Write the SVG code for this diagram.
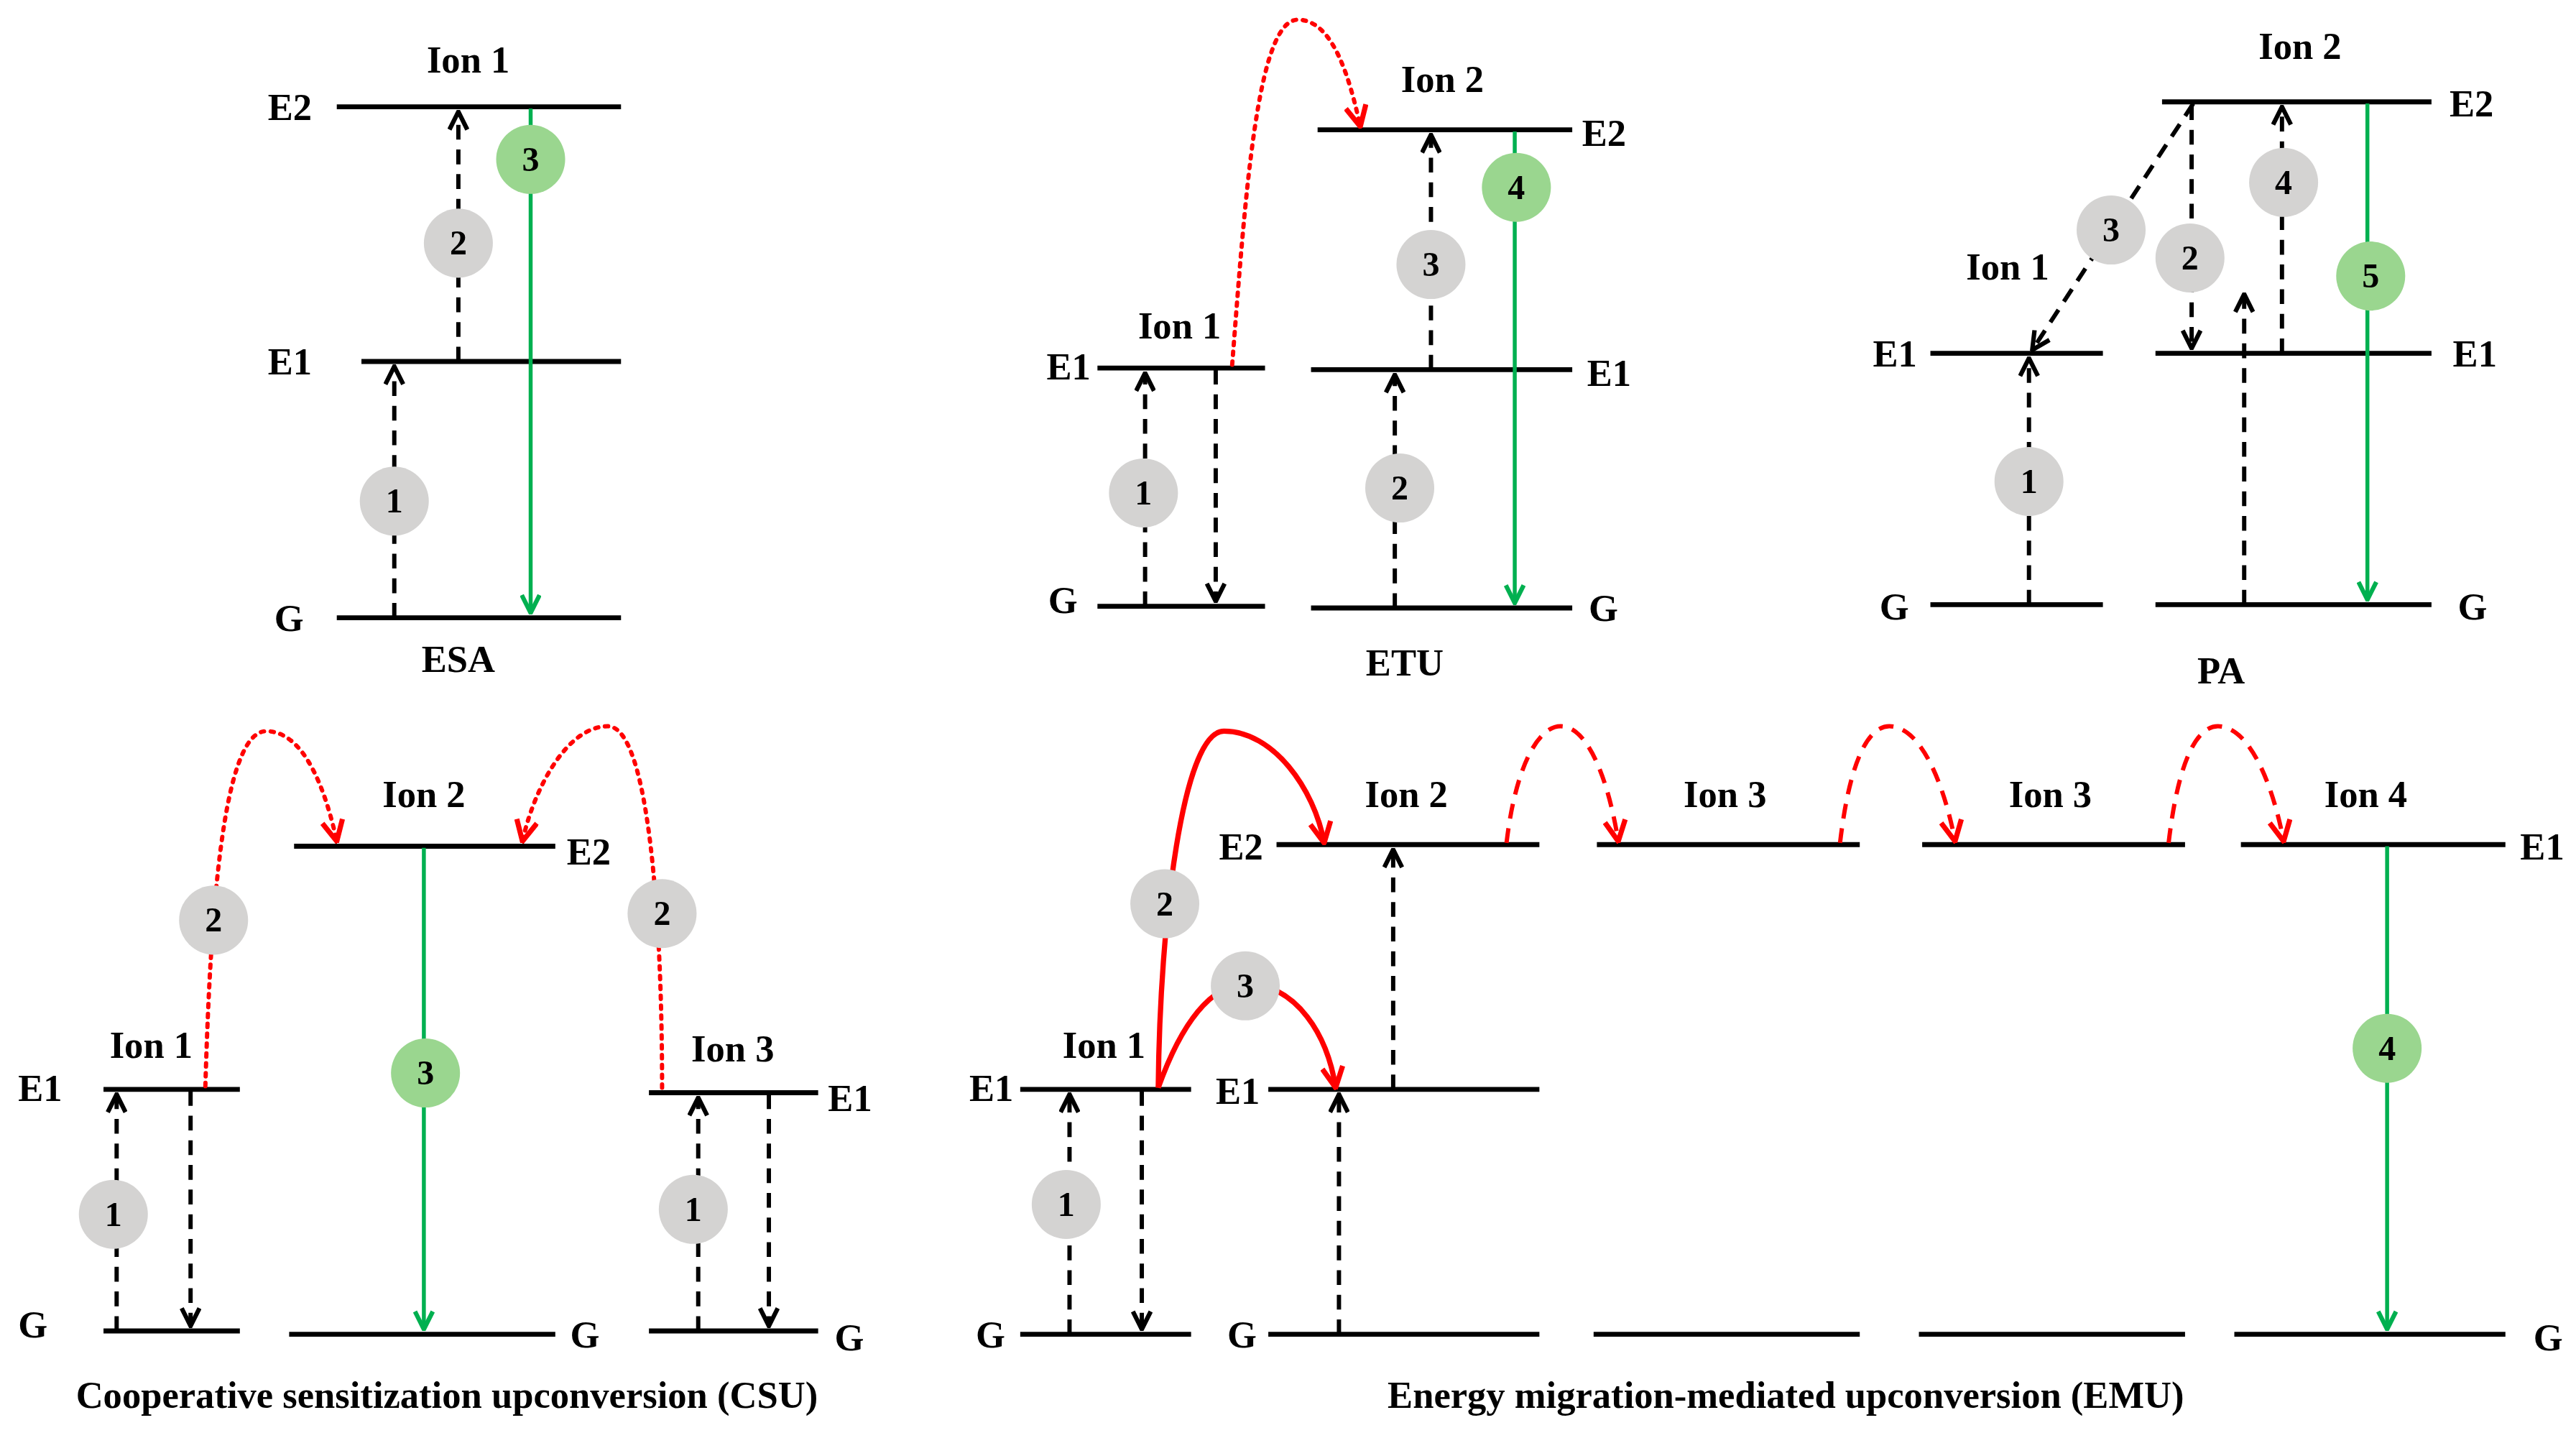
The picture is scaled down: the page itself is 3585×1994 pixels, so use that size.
<svg xmlns="http://www.w3.org/2000/svg" width="3585" height="1994" viewBox="0 0 3585 1994" font-family="'Liberation Serif', 'DejaVu Serif', serif">
<style>
text{font-family:'Liberation Serif','DejaVu Serif',serif;font-weight:bold;fill:#000}
.t{font-size:23px}
.c{font-size:21px;text-anchor:middle}
.mid{text-anchor:middle}
.lv{stroke:#000;stroke-width:3;fill:none}
.d{stroke:#000;stroke-width:2.6;stroke-dasharray:9 6;fill:none;marker-end:url(#mb)}
.g{stroke:#00b050;stroke-width:2.4;fill:none;marker-end:url(#mg)}
.rdot{stroke:#f00;stroke-width:2.6;stroke-dasharray:2 4;stroke-linecap:round;fill:none;marker-end:url(#mr)}
.rdash{stroke:#f00;stroke-width:2.6;stroke-dasharray:9 6;fill:none;marker-end:url(#mr)}
.rs{stroke:#f00;stroke-width:3.2;fill:none;marker-end:url(#mr)}
.gc{fill:#d4d3d2}
.gn{fill:#9ad68f}
</style>
<defs>
<marker id="mb" viewBox="0 0 12 12" refX="11" refY="6" markerWidth="13" markerHeight="13" markerUnits="userSpaceOnUse" orient="auto"><path d="M1,1 L11,6 L1,11" fill="none" stroke="#000" stroke-width="2.5"/></marker>
<marker id="mg" viewBox="0 0 12 12" refX="11" refY="6" markerWidth="13" markerHeight="13" markerUnits="userSpaceOnUse" orient="auto"><path d="M1,1 L11,6 L1,11" fill="none" stroke="#00b050" stroke-width="2.5"/></marker>
<marker id="mr" viewBox="0 0 12 12" refX="11" refY="6" markerWidth="15" markerHeight="15" markerUnits="userSpaceOnUse" orient="auto"><path d="M1,1 L11,6 L1,11" fill="none" stroke="#f00" stroke-width="2.5"/></marker>
</defs>
<rect width="3585" height="1994" fill="#fff"/>
<g transform="scale(2.2864)">
<g id="esa">
<line class="lv" x1="205" y1="65" x2="378" y2="65"/><line class="lv" x1="220" y1="220" x2="378" y2="220"/><line class="lv" x1="205" y1="376" x2="378" y2="376"/>
<text class="t" x="163" y="73">E2</text><text class="t" x="163" y="228">E1</text><text class="t" x="167" y="384">G</text>
<text class="t mid" x="285" y="44">Ion 1</text><text class="t mid" x="279" y="409">ESA</text>
</g>
<g id="etu">
<line class="lv" x1="668" y1="224" x2="770" y2="224"/><line class="lv" x1="668" y1="369" x2="770" y2="369"/>
<line class="lv" x1="802" y1="79" x2="957" y2="79"/><line class="lv" x1="798" y1="225" x2="957" y2="225"/><line class="lv" x1="798" y1="370" x2="957" y2="370"/>
<text class="t" x="637" y="231">E1</text><text class="t" x="638" y="373">G</text><text class="t mid" x="718" y="206">Ion 1</text>
<text class="t" x="963" y="89">E2</text><text class="t" x="966" y="235">E1</text><text class="t" x="967" y="378">G</text><text class="t mid" x="878" y="56">Ion 2</text>
<text class="t mid" x="855" y="411">ETU</text>
</g>
<g id="pa">
<line class="lv" x1="1175" y1="215" x2="1280" y2="215"/><line class="lv" x1="1175" y1="368" x2="1280" y2="368"/>
<line class="lv" x1="1316" y1="62" x2="1480" y2="62"/><line class="lv" x1="1312" y1="215" x2="1480" y2="215"/><line class="lv" x1="1312" y1="368" x2="1480" y2="368"/>
<text class="t" x="1140" y="223">E1</text><text class="t" x="1144" y="377">G</text><text class="t mid" x="1222" y="170">Ion 1</text>
<text class="t" x="1491" y="71">E2</text><text class="t" x="1493" y="223">E1</text><text class="t" x="1496" y="377">G</text><text class="t mid" x="1400" y="36">Ion 2</text>
<text class="t mid" x="1352" y="416">PA</text>
</g>
<g id="csu">
<line class="lv" x1="63" y1="663" x2="146" y2="663"/><line class="lv" x1="63" y1="810" x2="146" y2="810"/>
<line class="lv" x1="179" y1="515" x2="338" y2="515"/><line class="lv" x1="176" y1="812" x2="338" y2="812"/>
<line class="lv" x1="395" y1="665" x2="498" y2="665"/><line class="lv" x1="395" y1="810" x2="498" y2="810"/>
<text class="t" x="11" y="670">E1</text><text class="t" x="11" y="814">G</text><text class="t mid" x="92" y="644">Ion 1</text>
<text class="t" x="345" y="526">E2</text><text class="t" x="347" y="820">G</text><text class="t mid" x="258" y="491">Ion 2</text>
<text class="t" x="504" y="676">E1</text><text class="t" x="508" y="822">G</text><text class="t mid" x="446" y="646">Ion 3</text>
<text class="t mid" x="272" y="857">Cooperative sensitization upconversion (CSU)</text>
</g>
<g id="emu">
<line class="lv" x1="621" y1="663" x2="725" y2="663"/><line class="lv" x1="621" y1="812" x2="725" y2="812"/>
<line class="lv" x1="777" y1="514" x2="937" y2="514"/><line class="lv" x1="772" y1="663" x2="937" y2="663"/><line class="lv" x1="772" y1="812" x2="937" y2="812"/>
<line class="lv" x1="972" y1="514" x2="1132" y2="514"/><line class="lv" x1="970" y1="812" x2="1132" y2="812"/>
<line class="lv" x1="1170" y1="514" x2="1330" y2="514"/><line class="lv" x1="1168" y1="812" x2="1330" y2="812"/>
<line class="lv" x1="1364" y1="514" x2="1525" y2="514"/><line class="lv" x1="1360" y1="812" x2="1525" y2="812"/>
<text class="t" x="590" y="670">E1</text><text class="t" x="594" y="820">G</text><text class="t mid" x="672" y="644">Ion 1</text>
<text class="t" x="742" y="523">E2</text><text class="t" x="740" y="672">E1</text><text class="t" x="747" y="820">G</text><text class="t mid" x="856" y="491">Ion 2</text>
<text class="t mid" x="1050" y="491">Ion 3</text><text class="t mid" x="1248" y="491">Ion 3</text><text class="t mid" x="1440" y="491">Ion 4</text>
<text class="t" x="1534" y="523">E1</text><text class="t" x="1542" y="822">G</text>
<text class="t mid" x="1087" y="857">Energy migration-mediated upconversion (EMU)</text>
</g>
<g id="connectors">
<line class="d" x1="240" y1="376" x2="240" y2="223"/>
<line class="d" x1="279" y1="220" x2="279" y2="68"/>
<line class="g" x1="323" y1="66" x2="323" y2="373"/>
<line class="d" x1="697" y1="369" x2="697" y2="227"/>
<line class="d" x1="740" y1="225" x2="740" y2="366"/>
<path class="rdot" d="M750,222 C758,120 765,12 790,12 C812,12 822,50 828,77"/>
<line class="d" x1="849" y1="370" x2="849" y2="228"/>
<line class="d" x1="871" y1="225" x2="871" y2="82"/>
<line class="g" x1="922" y1="80" x2="922" y2="367"/>
<line class="d" x1="1235" y1="368" x2="1235" y2="218"/>
<line class="d" x1="1335" y1="63" x2="1237" y2="213"/>
<line class="d" x1="1334" y1="64" x2="1334" y2="212"/>
<line class="d" x1="1366" y1="368" x2="1366" y2="179"/>
<line class="d" x1="1389" y1="215" x2="1389" y2="65"/>
<line class="g" x1="1441" y1="63" x2="1441" y2="365"/>
<line class="d" x1="71" y1="810" x2="71" y2="666"/>
<line class="d" x1="116" y1="664" x2="116" y2="807"/>
<path class="rdot" d="M125,661 C128,560 135,445 162,445 C185,445 198,480 205,512"/>
<line class="g" x1="258" y1="516" x2="258" y2="809"/>
<path class="rdot" d="M403,662 C403,560 395,442 370,442 C345,442 325,480 318,512"/>
<line class="d" x1="425" y1="810" x2="425" y2="668"/>
<line class="d" x1="468" y1="666" x2="468" y2="807"/>
<line class="d" x1="651" y1="812" x2="651" y2="666"/>
<line class="d" x1="695" y1="664" x2="695" y2="809"/>
<path class="rs" d="M705,662 C706,560 720,445 745,445 C775,445 800,480 806,513"/>
<path class="rs" d="M705,662 C720,620 738,600 758,598 C790,600 808,630 813,662"/>
<line class="d" x1="848" y1="663" x2="848" y2="517"/>
<line class="d" x1="815" y1="812" x2="815" y2="666"/>
<path class="rdash" d="M917,513 C922,470 935,442 950,442 C968,442 980,480 985,512"/>
<path class="rdash" d="M1120,513 C1125,470 1135,442 1150,442 C1170,442 1184,480 1190,512"/>
<path class="rdash" d="M1320,513 C1325,470 1335,442 1350,442 C1370,442 1384,480 1390,512"/>
<line class="g" x1="1453" y1="515" x2="1453" y2="809"/>
</g>
<g id="badges">
<circle class="gc" cx="240" cy="305" r="21"/><text class="c" x="240" y="312">1</text>
<circle class="gc" cx="279" cy="148" r="21"/><text class="c" x="279" y="155">2</text>
<circle class="gn" cx="323" cy="97" r="21"/><text class="c" x="323" y="104">3</text>
<circle class="gc" cx="696" cy="300" r="21"/><text class="c" x="696" y="307">1</text>
<circle class="gc" cx="852" cy="297" r="21"/><text class="c" x="852" y="304">2</text>
<circle class="gc" cx="871" cy="161" r="21"/><text class="c" x="871" y="168">3</text>
<circle class="gn" cx="923" cy="114" r="21"/><text class="c" x="923" y="121">4</text>
<circle class="gc" cx="1235" cy="293" r="21"/><text class="c" x="1235" y="300">1</text>
<circle class="gc" cx="1285" cy="140" r="21"/><text class="c" x="1285" y="147">3</text>
<circle class="gc" cx="1333" cy="157" r="21"/><text class="c" x="1333" y="164">2</text>
<circle class="gc" cx="1390" cy="111" r="21"/><text class="c" x="1390" y="118">4</text>
<circle class="gn" cx="1443" cy="168" r="21"/><text class="c" x="1443" y="175">5</text>
<circle class="gc" cx="69" cy="739" r="21"/><text class="c" x="69" y="746">1</text>
<circle class="gc" cx="130" cy="560" r="21"/><text class="c" x="130" y="567">2</text>
<circle class="gn" cx="259" cy="653" r="21"/><text class="c" x="259" y="660">3</text>
<circle class="gc" cx="403" cy="556" r="21"/><text class="c" x="403" y="563">2</text>
<circle class="gc" cx="422" cy="736" r="21"/><text class="c" x="422" y="743">1</text>
<circle class="gc" cx="649" cy="733" r="21"/><text class="c" x="649" y="740">1</text>
<circle class="gc" cx="709" cy="550" r="21"/><text class="c" x="709" y="557">2</text>
<circle class="gc" cx="758" cy="600" r="21"/><text class="c" x="758" y="607">3</text>
<circle class="gn" cx="1453" cy="638" r="21"/><text class="c" x="1453" y="645">4</text>
</g>
</g>
</svg>
